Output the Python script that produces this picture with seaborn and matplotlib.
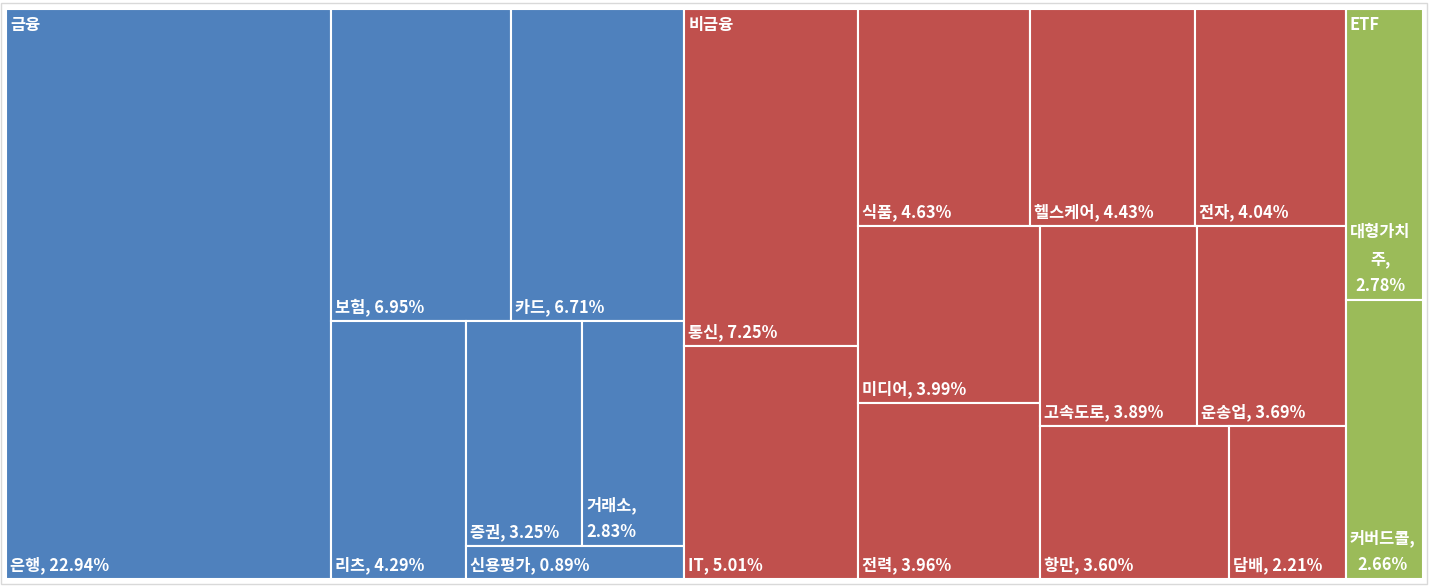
import matplotlib
matplotlib.use('Agg')
import matplotlib.pyplot as plt
from matplotlib.patches import Rectangle
import pandas as pd
import seaborn as sns

# Sector weights (%)
groups = ['금융', '비금융', 'ETF']
fin_names = ['은행', '보험', '카드', '리츠', '증권', '거래소', '신용평가']
fin_values = [22.94, 6.95, 6.71, 4.29, 3.25, 2.83, 0.89]
nonfin_names = ['통신', 'IT', '식품', '헬스케어', '전자', '미디어', '전력',
                '고속도로', '운송업', '항만', '담배']
nonfin_values = [7.25, 5.01, 4.63, 4.43, 4.04, 3.99, 3.96, 3.89, 3.69, 3.60, 2.21]
etf_names = ['대형가치주', '커버드콜']
etf_values = [2.78, 2.66]
group_colors = ['#4F81BD', '#C0504D', '#9BBB59']

df = pd.concat([
    pd.DataFrame({'group': groups[0], 'name': fin_names, 'value': fin_values}),
    pd.DataFrame({'group': groups[1], 'name': nonfin_names, 'value': nonfin_values}),
    pd.DataFrame({'group': groups[2], 'name': etf_names, 'value': etf_values}),
], ignore_index=True)

sns.set_theme(style='white')
plt.rcParams['font.family'] = ['Noto Sans CJK KR', 'DejaVu Sans']

FIG_W, FIG_H, DPI = 1429, 586, 100
AX_L, AX_T, AX_R, AX_B = 6, 9, 1423, 579
SQUASH = 0.875  # layout space is slightly flattened, like the Excel treemap
W = AX_R - AX_L
H = (AX_B - AX_T) * SQUASH


def worst(row, side):
    t = sum(row) / side
    return max(max(t / (a / t), (a / t) / t) for a in row)


def squarify(values, x, y, w, h):
    total = sum(values)
    areas = [v / total * w * h for v in values]
    rects = []
    while areas:
        side = min(w, h)
        row = [areas[0]]
        i = 1
        while i < len(areas) and worst(row + [areas[i]], side) <= worst(row, side):
            row.append(areas[i])
            i += 1
        areas = areas[i:]
        s = sum(row)
        if w <= h:
            th = s / w
            cx = x
            for a in row:
                rects.append((cx, y, a / th, th))
                cx += a / th
            y += th
            h -= th
        else:
            th = s / h
            cy = y
            for a in row:
                rects.append((x, cy, th, a / th))
                cy += a / th
            x += th
            w -= th
    return rects


fig = plt.figure(figsize=(FIG_W / DPI, FIG_H / DPI), dpi=DPI)
ax = fig.add_axes([AX_L / FIG_W, 1 - AX_B / FIG_H, W / FIG_W, (AX_B - AX_T) / FIG_H])
ax.set_xlim(0, W)
ax.set_ylim(H, 0)
ax.axis('off')

fig.patches.append(Rectangle((1 / FIG_W, 2 / FIG_H), 1 - 3 / FIG_W, 1 - 5 / FIG_H,
                             transform=fig.transFigure, fill=False,
                             edgecolor='#D9D9D9', linewidth=1))

renderer = fig.canvas.get_renderer()
font_kw = dict(fontsize=11.8, fontweight='bold', color='white')


def text_px(s):
    t = fig.text(0, 0, s, **font_kw)
    wpx = t.get_window_extent(renderer).width
    t.remove()
    return wpx


def fit_label(name, value, max_px):
    full = f'{name}, {value:.2f}%'
    if text_px(full) <= max_px:
        return full
    lines, cur = [], ''
    for ch in name + ',':
        if cur and text_px(cur + ch) > max_px:
            lines.append(cur)
            cur = ch
        else:
            cur += ch
    lines.append(cur)
    lines.append(f'{value:.2f}%')
    return '\n'.join(lines)


totals = df.groupby('group', sort=False)['value'].sum()
group_rects = squarify(list(totals.values), 0, 0, W, H)

for gname, color, (gx, gy, gw, gh) in zip(totals.index, group_colors, group_rects):
    sub = df[df['group'] == gname]
    cells = squarify(list(sub['value']), gx, gy, gw, gh)
    for (name, value), (x, y, w, h) in zip(zip(sub['name'], sub['value']), cells):
        ax.add_patch(Rectangle((x, y), w, h, facecolor=color,
                               edgecolor='white', linewidth=1.5))
        label = fit_label(name, value, w - 8)
        ax.annotate(label, (x, y + h), xytext=(4, 5), textcoords='offset pixels',
                    ha='left', va='bottom', multialignment='center',
                    linespacing=1.65, **font_kw)
    ax.annotate(gname, (gx, gy), xytext=(4, -7), textcoords='offset pixels',
                ha='left', va='top', **font_kw)

fig.savefig('out.png', dpi=DPI, facecolor='white')
